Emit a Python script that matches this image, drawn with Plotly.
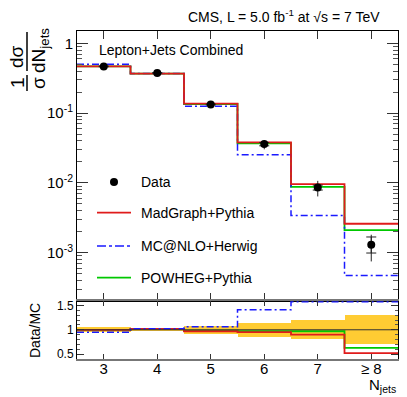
import numpy as np
import plotly.graph_objects as go
from plotly.subplots import make_subplots

# ── DATA ─────────────────────────────────────────────────────
njets = [3, 4, 5, 6, 7, 8]
njets_labels = ['3', '4', '5', '6', '7', '≥ 8']
bin_edges = [2.5, 3.5, 4.5, 5.5, 6.5, 7.5, 8.5]

data_xsec = [0.466, 0.376, 0.133, 0.036, 0.0086, 0.0013]
data_tot_up = [0.012, 0.010, 0.005, 0.0050, 0.0021, 0.00051]
data_tot_dn = [0.012, 0.010, 0.005, 0.0057, 0.0022, 0.00055]
data_stat_up = [0.005, 0.004, 0.002, 0.0020, 0.0007, 0.00038]
data_stat_dn = [0.005, 0.004, 0.002, 0.0020, 0.0007, 0.00031]

madgraph = [0.468, 0.368, 0.137, 0.038, 0.0096, 0.0026]
mcnlo = [0.50, 0.37, 0.125, 0.0254, 0.0034, 0.00047]
powheg = [0.468, 0.368, 0.135, 0.037, 0.0088, 0.0021]

ratio_madgraph = [1.00, 1.02, 0.97, 0.95, 0.90, 0.52]
ratio_mcnlo = [0.95, 1.02, 1.06, 1.41, 2.5, 2.8]
ratio_powheg = [1.00, 1.02, 0.98, 0.97, 0.97, 0.63]
band_low = [0.95, 0.96, 0.91, 0.85, 0.80, 0.71]
band_high = [1.05, 1.04, 1.07, 1.14, 1.19, 1.29]

legend_names = ['Data', 'MadGraph+Pythia', 'MC@NLO+Herwig', 'POWHEG+Pythia']

# ── STYLE ────────────────────────────────────────────────────
RED = '#e01b1b'
BLUE = '#1a1aff'
GREEN = '#00c800'
BAND = '#ffcc33'
FONT = 'Liberation Sans, Arial, sans-serif'
DASHDOT = '7px,3px,2px,3px'

W_FIG, H_FIG = 407, 397
ML, MR, MT, MB = 77, 9, 31, 38
L, R, T, B = ML, W_FIG - MR, MT, H_FIG - MB
PW, PH = R - L, B - T


def px(x):
    return (x - L) / PW


def py(y):
    return (B - y) / PH


split = py(301.3)
ratio_range = [0.4, 1.585]


def steps(vals):
    return bin_edges, list(vals) + [vals[-1]]


fig = make_subplots(rows=2, cols=1, shared_xaxes=True, vertical_spacing=0)

# ── TOP PANEL ────────────────────────────────────────────────
for vals, col, dash, w in [(powheg, GREEN, 'solid', 1.8),
                           (mcnlo, BLUE, DASHDOT, 1.5),
                           (madgraph, RED, 'solid', 1.8)]:
    xs, ys = steps(vals)
    fig.add_trace(go.Scatter(x=xs, y=ys, mode='lines', line_shape='hv',
                             line=dict(color=col, width=w, dash=dash),
                             showlegend=False), row=1, col=1)

# total errors (no caps), then stat errors with caps
fig.add_trace(go.Scatter(x=njets, y=data_xsec, mode='markers',
                         marker=dict(color='black', size=1),
                         error_y=dict(type='data', array=data_tot_up, arrayminus=data_tot_dn,
                                      color='#222', thickness=1, width=0),
                         showlegend=False), row=1, col=1)
fig.add_trace(go.Scatter(x=njets, y=data_xsec, mode='markers',
                         marker=dict(color='black', size=8),
                         error_y=dict(type='data', array=data_stat_up, arrayminus=data_stat_dn,
                                      color='#222', thickness=1, width=5),
                         showlegend=False), row=1, col=1)

# ── RATIO PANEL ──────────────────────────────────────────────
fig.add_trace(go.Bar(x=njets, y=np.array(band_high) - np.array(band_low), base=band_low,
                     width=1, marker=dict(color=BAND, line=dict(width=0)),
                     showlegend=False), row=2, col=1)

for vals, col, dash, w in [(ratio_powheg, GREEN, 'solid', 1.8),
                           (ratio_madgraph, RED, 'solid', 1.8),
                           (ratio_mcnlo, BLUE, DASHDOT, 1.5)]:
    clipped = np.minimum(vals, ratio_range[1] - 0.01)
    xs, ys = steps(list(clipped))
    fig.add_trace(go.Scatter(x=xs, y=ys, mode='lines', line_shape='hv',
                             line=dict(color=col, width=w, dash=dash),
                             showlegend=False), row=2, col=1)

fig.add_shape(type='line', xref='x2', yref='y2', x0=bin_edges[0], x1=bin_edges[-1],
              y0=1, y1=1, line=dict(color='#333', width=1))

# ── AXES ─────────────────────────────────────────────────────
minor_log = [k * 10.0 ** e for e in range(-4, 1) for k in range(2, 10)]

fig.update_xaxes(range=[bin_edges[0], bin_edges[-1]], showgrid=False, zeroline=False,
                 tickvals=njets, ticktext=njets_labels, ticks='inside',
                 showline=True, mirror='allticks', linecolor='black', linewidth=1,
                 tickcolor='#333')
fig.update_xaxes(showticklabels=False, ticklen=8, row=1, col=1)
fig.update_xaxes(showticklabels=True, ticklen=5, linecolor='#777', linewidth=1.5,
                 ticklabelstandoff=-5,
                 tickfont=dict(size=15, color='black'), row=2, col=1)

fig.update_yaxes(type='log', range=[-3.696, 0.176], domain=[split, 1],
                 tickvals=[1e-3, 1e-2, 1e-1, 1],
                 ticktext=['10<sup>-3</sup>', '10<sup>-2</sup>', '10<sup>-1</sup>', '1'],
                 ticks='inside', ticklen=11, tickcolor='#333',
                 minor=dict(tickvals=minor_log, ticks='inside', ticklen=5, tickcolor='#555'),
                 showline=True, mirror='allticks', linecolor='black', linewidth=1,
                 showgrid=False, zeroline=False, tickfont=dict(size=15, color='black'),
                 row=1, col=1)
fig.update_yaxes(range=ratio_range, domain=[0, split],
                 tickvals=[0.5, 1, 1.5], ticktext=['0.5', '1', '1.5'],
                 ticks='inside', ticklen=7, tickcolor='#333',
                 minor=dict(dtick=0.1, ticks='inside', ticklen=3, tickcolor='#555'),
                 showline=True, mirror='allticks', linecolor='black', linewidth=1,
                 showgrid=False, zeroline=False, tickfont=dict(size=12, color='black'),
                 row=2, col=1)

# ── TEXT / LEGEND ────────────────────────────────────────────
ann = []


def text(x, y, s, size=14, anchor='left', angle=0):
    ann.append(dict(xref='paper', yref='paper', x=px(x), y=py(y), text=s,
                    showarrow=False, xanchor=anchor, yanchor='middle', textangle=angle,
                    font=dict(size=size, color='black', family=FONT)))


text(382, 16, 'CMS, L = 5.0 fb<sup>-1</sup> at √s = 7 TeV', 14, 'right')
text(97, 50, 'Lepton+Jets Combined', 14)

# big y title as two rotated fractions
text(17, 83, '1', 19, 'center', -90)
text(38, 83, 'σ', 19, 'center', -90)
text(17, 57, 'dσ', 19, 'center', -90)
text(40, 51, 'dN<sub>jets</sub>', 19, 'center', -90)
text(35, 331, 'Data/MC', 14, 'center', -90)
text(398, 385, 'N<sub>jets</sub>', 15, 'right')

shapes = []
for y0, y1 in [(75, 91), (32, 71)]:
    shapes.append(dict(type='line', xref='paper', yref='paper', x0=px(27), x1=px(27),
                       y0=py(y0), y1=py(y1), line=dict(color='black', width=1.5)))

leg_y = [182, 212.7, 246, 277.7]
for name, y in zip(legend_names, leg_y):
    text(139, y, name, 14)
shapes.append(dict(type='circle', xref='paper', yref='paper', x0=px(110), x1=px(118),
                   y0=py(186), y1=py(178), fillcolor='black', line=dict(color='black', width=0)))
for y, col, dash, w in [(leg_y[1], RED, 'solid', 1.8), (leg_y[2], BLUE, 'dashdot', 1.5),
                        (leg_y[3], GREEN, 'solid', 1.8)]:
    shapes.append(dict(type='line', xref='paper', yref='paper', x0=px(97), x1=px(131),
                       y0=py(y), y1=py(y), line=dict(color=col, width=w, dash=dash)))

for s in shapes:
    fig.add_shape(**s)

fig.update_layout(width=W_FIG, height=H_FIG, margin=dict(l=ML, r=MR, t=MT, b=MB),
                  plot_bgcolor='white', paper_bgcolor='white', showlegend=False,
                  bargap=0, font=dict(family=FONT, color='black'), annotations=ann)

# browser default body margin would shift the figure by 8px
fig.write_html("out.html", config={'displayModeBar': False},
               post_script="document.body.style.margin='0';")
